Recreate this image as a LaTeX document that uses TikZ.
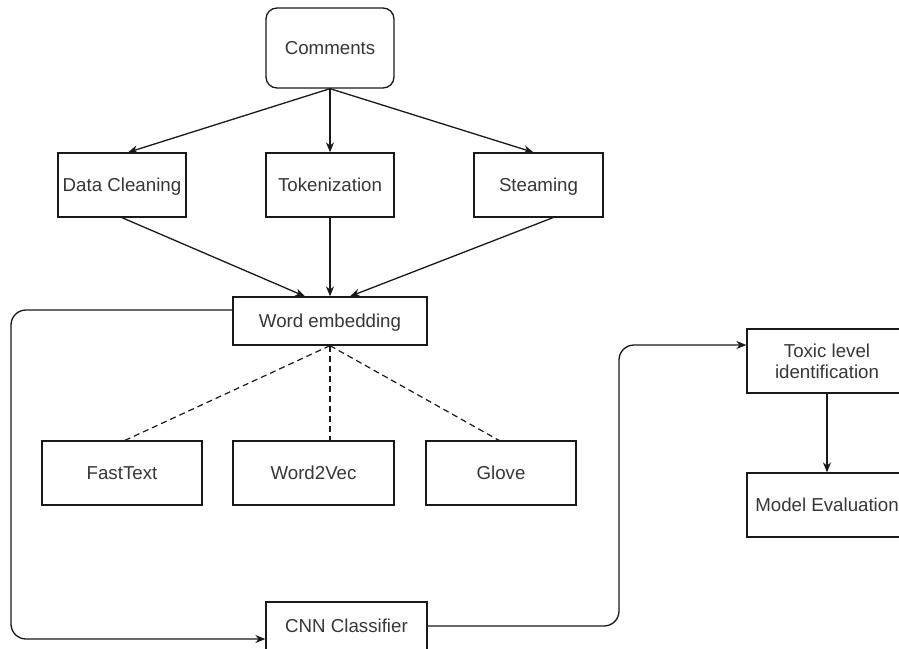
\documentclass[tikz,border=0pt]{standalone}
\usepackage{fontspec}
\setmainfont{Liberation Sans}
\usepackage{tikz}
\usetikzlibrary{arrows.meta}
\tikzset{>={Stealth[length=10pt,width=8pt]}}
\definecolor{linecol}{RGB}{25,25,25}
\definecolor{textcol}{RGB}{55,55,55}
\tikzset{
  procbox/.style={draw=linecol, line width=1.3pt, fill=white, text=textcol,
    inner sep=0pt, align=center, text height=13.5pt, text depth=0pt,
    font=\fontsize{18.7}{21}\selectfont},
  startbox/.style={procbox, rounded corners=11pt},
  flow/.style={->, draw=linecol, line width=1.3pt},
  option/.style={draw=linecol, line width=1.2pt, dash pattern=on 6pt off 4pt}
}

\begin{document}
\begin{tikzpicture}[x=1pt,y=-1pt]
            \useasboundingbox (0,0) rectangle (899,648);

            % Input and preprocessing
            \node[startbox, minimum width=128pt, minimum height=80pt] (com) at (330,48) {Comments};
            \node[procbox, minimum width=128pt, minimum height=64pt] (clean) at (122,185) {Data Cleaning};
            \node[procbox, minimum width=128pt, minimum height=64pt] (token) at (330,185) {Tokenization};
            \node[procbox, minimum width=129pt, minimum height=64pt] (steam) at (538.5,185) {Steaming};

            \draw[flow] (com.south) -- ([xshift=6pt]clean.north);
            \draw[flow] (com.south) -- (token.north);
            \draw[flow] (com.south) -- ([xshift=-5pt]steam.north);

            % Embedding
            \node[procbox, minimum width=194pt, minimum height=48pt] (embed) at (330,321) {Word embedding};

            \draw[flow] (clean.south) -- ([xshift=-25pt]embed.north);
            \draw[flow] (token.south) -- (embed.north);
            \draw[flow] ([xshift=14.5pt]steam.south) -- ([xshift=20pt]embed.north);

            % Embedding options
            \node[procbox, minimum width=160pt, minimum height=64pt] (fast) at (122,473) {FastText};
            \node[procbox, minimum width=161pt, minimum height=64pt] (w2v) at (313.5,473) {Word2Vec};
            \node[procbox, minimum width=150pt, minimum height=64pt] (glove) at (501,473) {Glove};

            \draw[option] (embed.south) -- ([xshift=3pt]fast.north);
            \draw[option] (embed.south) -- (w2v.north -| embed.south);
            \draw[option] (embed.south) -- ([xshift=-2pt]glove.north);

            % Classification
            \node[procbox, minimum width=161pt, minimum height=48pt] (cnn) at (346.5,626) {CNN Classifier};
            \node[procbox, minimum width=160pt, minimum height=64pt, text height=34.5pt, text depth=-7.5pt] (toxic) at (827,361) {Toxic level\\identification};
            \node[procbox, minimum width=160pt, minimum height=64pt] (model) at (827,505) {Model Evaluation};

            \coordinate (loopL) at (11,639);
            \coordinate (loopR) at (619,345);
            \draw[flow, rounded corners=15pt] ([yshift=11pt]embed.west) -| (loopL) -- ([yshift=-13pt]cnn.west);
            \draw[flow, rounded corners=15pt] (cnn.east) -| (loopR) -- ([yshift=16pt]toxic.west);
            \draw[flow] (toxic.south) -- (model.north);
        \end{tikzpicture}
\end{document}
